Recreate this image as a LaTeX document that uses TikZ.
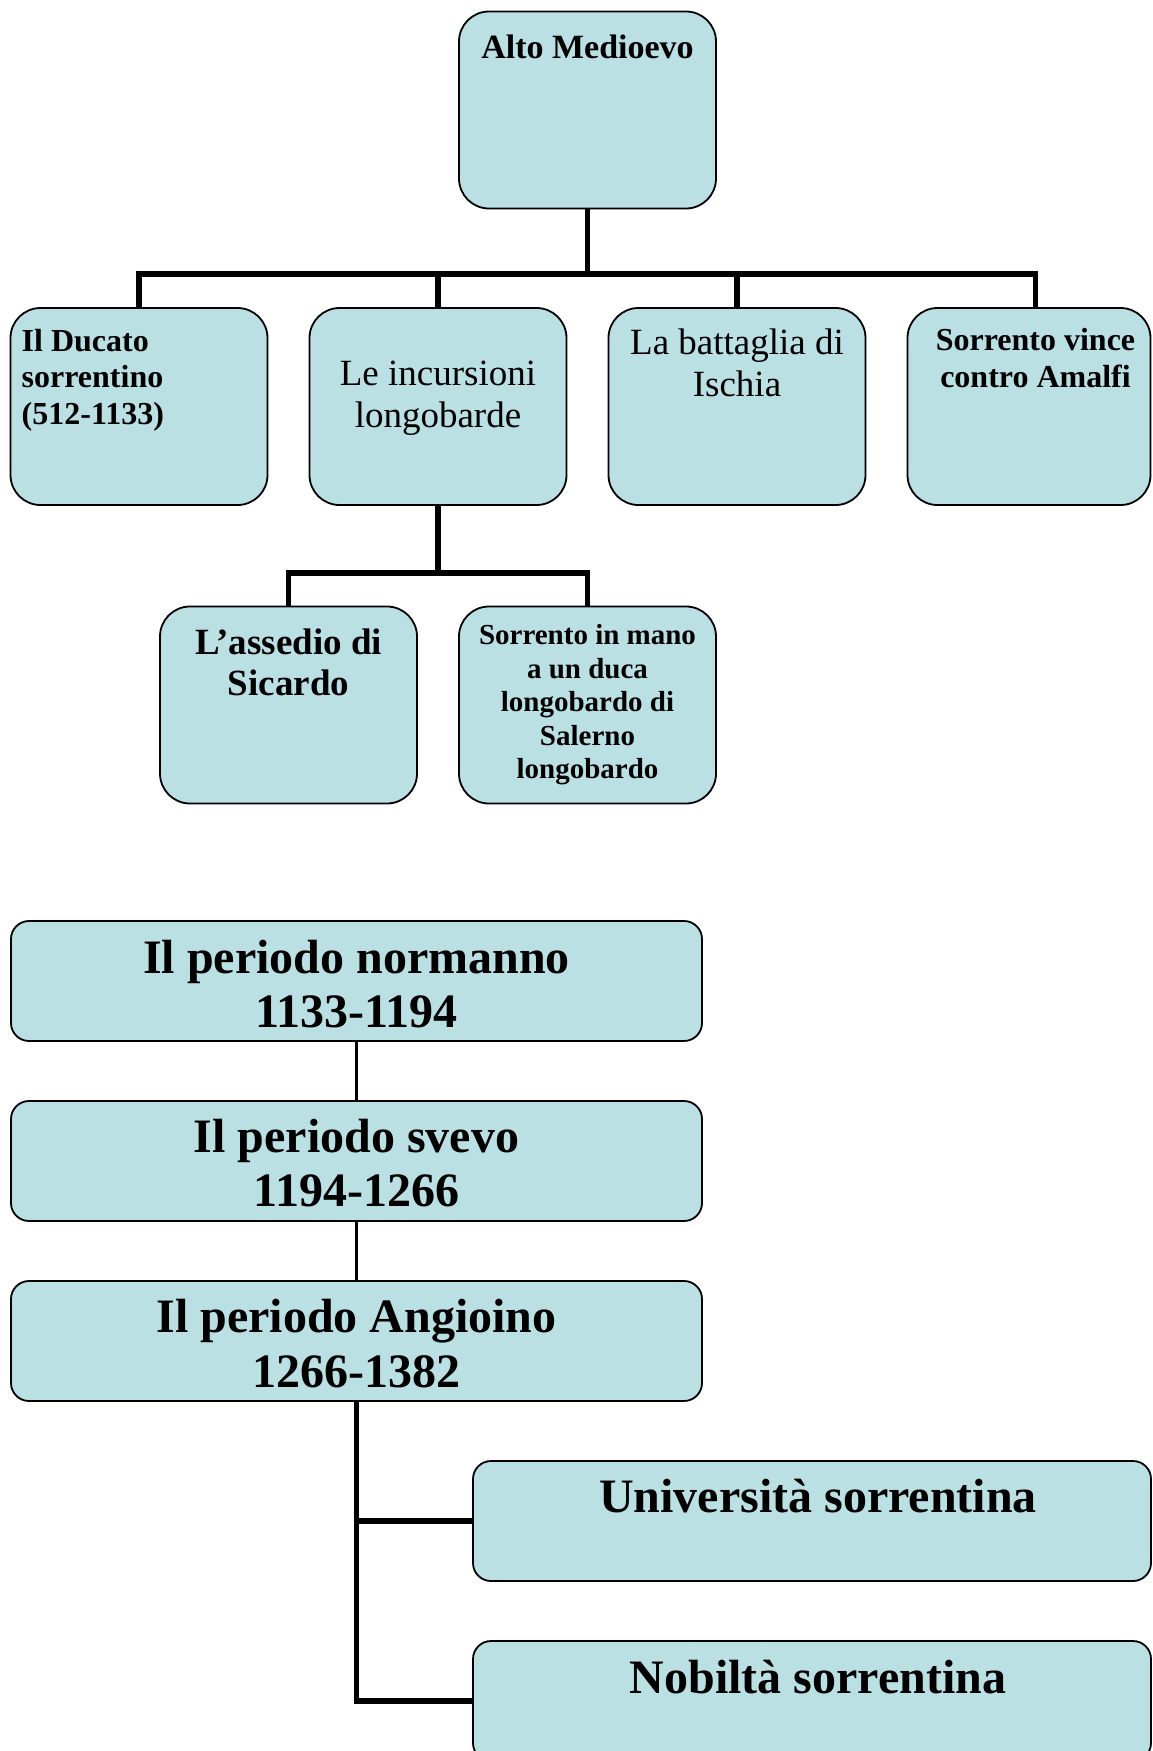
\documentclass[tikz,border=0pt]{standalone}
\usepackage{fontspec}
\setmainfont{Liberation Serif}
\usetikzlibrary{positioning}
\definecolor{boxfill}{RGB}{186,224,228}

\begin{document}
\begin{tikzpicture}[
        x=1pt, y=-1pt,
        node distance=42pt,
        % Define styles for the boxes, texts and links
        tallbox/.style={rectangle, draw=black, line width=1.8pt, fill=boxfill, rounded corners=30pt, minimum width=257pt, minimum height=197pt, inner sep=0pt, outer sep=0pt},
        widebox/.style={tallbox, rounded corners=18pt, minimum width=691pt, minimum height=120pt},
        boxtext/.style={inner sep=0pt, align=center, font=\fontsize{32}{37}\selectfont\bfseries},
        plaintext/.style={boxtext, font=\fontsize{37}{42}\selectfont},
        bigtext/.style={boxtext, font=\fontsize{48}{54.5}\selectfont\bfseries},
        tree/.style={line width=5.2pt},
        thinlink/.style={line width=2.8pt}
    ]
        \useasboundingbox (0,0) rectangle (1152,1751);
        \clip (0,0) rectangle (1152,1751);

        % --- Alto Medioevo ---
        \node[tallbox, anchor=north] (alto) at (587.5,11.5) {};
        \node[tallbox, anchor=north] (ducato) at (139,308) {};
        \node[tallbox, right=of ducato] (incursioni) {};
        \node[tallbox, right=of incursioni] (battaglia) {};
        \node[tallbox, right=of battaglia, minimum width=243pt] (amalfi) {};

        \node[tallbox, anchor=north] (salerno) at (587.5,606.5) {};
        \node[tallbox, left=of salerno] (sicardo) {};

        % texts
        \node[boxtext, below=23pt of alto.north, font=\fontsize{34}{39}\selectfont\bfseries] (altotxt) {Alto Medioevo};
        \node[boxtext, align=left, font=\fontsize{32}{36.3}\selectfont\bfseries, below right=21pt and 11pt of ducato.north west] (ducatotxt) {Il Ducato\\sorrentino\\(512-1133)};
        \node[plaintext, below=53pt of incursioni.north] (incursionitxt) {Le incursioni\\longobarde};
        \node[plaintext, below=21pt of battaglia.north] (battagliatxt) {La battaglia di\\Ischia};
        \node[boxtext, below=20.5pt of amalfi.north, xshift=6.5pt] (amalfitxt) {Sorrento vince\\contro Amalfi};
        \node[boxtext, below=22pt of sicardo.north, font=\fontsize{37}{41.6}\selectfont\bfseries] (sicardotxt) {L’assedio di\\Sicardo};
        \node[boxtext, below=18pt of salerno.north, font=\fontsize{29}{33.5}\selectfont\bfseries] (salernotxt) {Sorrento in mano\\a un duca\\longobardo di\\Salerno\\longobardo};

        % --- Periodi ---
        \node[widebox, anchor=north west] (normanno) at (11,921) {};
        \node[widebox, below=60pt of normanno] (svevo) {};
        \node[widebox, below=60pt of svevo] (angioino) {};
        \node[widebox, anchor=north west, minimum width=678pt] (universita) at (473,1461) {};
        \node[widebox, below=60pt of universita, minimum width=678pt] (nobilta) {};

        \node[bigtext, below=18.5pt of normanno.north] (normannotxt) {Il periodo normanno\\1133-1194};
        \node[bigtext, below=17.5pt of svevo.north] (svevotxt) {Il periodo svevo\\1194-1266};
        \node[bigtext, below=18pt of angioino.north] (angioinotxt) {Il periodo Angioino\\1266-1382};
        \node[bigtext, below=18pt of universita.north, xshift=6pt] (universitatxt) {Università sorrentina};
        \node[bigtext, below=19pt of nobilta.north, xshift=6pt] (nobiltatxt) {Nobiltà sorrentina};

        % --- Links ---
        \coordinate[below=65.5pt of alto.south] (altohub);
        \coordinate[below=68pt of incursioni.south] (incursionihub);

        \draw[tree] (alto.south) -- (altohub);
        \draw[tree] (altohub) -| (ducato.north);
        \draw[tree] (altohub) -| (incursioni.north);
        \draw[tree] (altohub) -| (battaglia.north);
        \draw[tree] (altohub) -| ([xshift=6.5pt]amalfi.north);

        \draw[tree] (incursioni.south) -- (incursionihub);
        \draw[tree] (incursionihub) -| (sicardo.north);
        \draw[tree] (incursionihub) -| (salerno.north);

        \draw[thinlink] (normanno.south) -- (svevo.north);
        \draw[thinlink] (svevo.south) -- (angioino.north);

        \draw[tree, line width=5.8pt] (angioino.south) |- (universita.west);
        \draw[tree, line width=5.8pt] (angioino.south) |- (nobilta.west);

    \end{tikzpicture}
\end{document}
